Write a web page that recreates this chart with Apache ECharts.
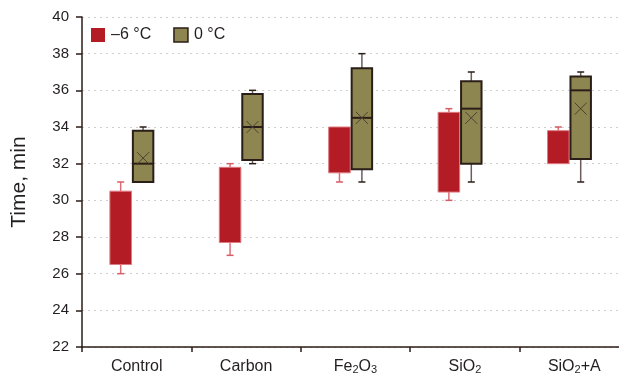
<!DOCTYPE html>
<html>
<head>
<meta charset="utf-8">
<script src="https://cdn.jsdelivr.net/npm/echarts@6/dist/echarts.min.js"></script>
<style>
html,body{margin:0;padding:0;background:#fff;}
#chart{width:619px;height:375px;}
</style>
</head>
<body>
<div id="chart"></div>
<script>
// ---- data ----
var categories = ['Control', 'Carbon', 'Fe2O3', 'SiO2', 'SiO2+A'];
var yTicks = [22, 24, 26, 28, 30, 32, 34, 36, 38, 40];
var seriesNames = ['\u20136 \u00B0C', '0 \u00B0C'];
// -6 °C : [min, Q1, median, Q3, max, mean] (median/mean not visible)
var coldMin    = [26.0, 27.0, 31.0, 30.0, 32.0];
var coldQ1     = [26.5, 27.7, 31.5, 30.45, 32.0];
var coldMedian = [null, null, null, null, null];
var coldQ3     = [30.5, 31.8, 34.0, 34.8, 33.8];
var coldMax    = [31.0, 32.0, 34.0, 35.0, 34.0];
var coldMean   = [null, null, null, null, null];
// 0 °C
var warmMin    = [31.0, 32.0, 31.0, 31.0, 31.0];
var warmQ1     = [31.0, 32.2, 31.7, 32.0, 32.25];
var warmMedian = [32.0, 34.0, 34.5, 35.0, 36.0];
var warmQ3     = [33.8, 35.8, 37.2, 36.5, 36.75];
var warmMax    = [34.0, 36.0, 38.0, 37.0, 37.0];
var warmMean   = [32.3, 34.0, 34.5, 34.5, 35.0];

function build(mn, q1, md, q3, mx, mean) {
  return categories.map(function (c, i) {
    return [i, mn[i], q1[i], md[i] == null ? '-' : md[i], q3[i], mx[i], mean[i] == null ? '-' : mean[i]];
  });
}

function makeRender(frac, st) {
  return function (params, api) {
    var ci = api.value(0);
    var bw = api.size([1, 0])[0];
    var c = api.coord([ci, 30]);
    var x0 = c[0] + frac[0] * bw, x1 = c[0] + frac[1] * bw;
    var xm = (x0 + x1) / 2;
    var yLow = api.coord([ci, api.value(1)])[1];
    var yQ1 = api.coord([ci, api.value(2)])[1];
    var yQ3 = api.coord([ci, api.value(4)])[1];
    var yHigh = api.coord([ci, api.value(5)])[1];
    var med = api.value(3), mean = api.value(6);
    var ch = [];
    var cap = 3.5;
    if (yHigh < yQ3 - 0.5) {
      ch.push({type: 'line', shape: {x1: xm, y1: yQ3, x2: xm, y2: yHigh}, style: {stroke: st.whisker, lineWidth: 1.5}});
      ch.push({type: 'line', shape: {x1: xm - cap, y1: yHigh, x2: xm + cap, y2: yHigh}, style: {stroke: st.cap, lineWidth: 1.5}});
    }
    if (yLow > yQ1 + 0.5) {
      ch.push({type: 'line', shape: {x1: xm, y1: yQ1, x2: xm, y2: yLow}, style: {stroke: st.whisker, lineWidth: 1.5}});
      ch.push({type: 'line', shape: {x1: xm - cap, y1: yLow, x2: xm + cap, y2: yLow}, style: {stroke: st.cap, lineWidth: 1.5}});
    }
    ch.push({type: 'rect', shape: {x: x0, y: yQ3, width: x1 - x0, height: yQ1 - yQ3},
      style: {fill: st.fill, stroke: st.stroke, lineWidth: st.lw}});
    if (!isNaN(med) && med !== '-' && med != null) {
      var yMd = api.coord([ci, med])[1];
      ch.push({type: 'line', shape: {x1: x0, y1: yMd, x2: x1, y2: yMd}, style: {stroke: st.stroke, lineWidth: 2}});
    }
    if (!isNaN(mean) && mean !== '-' && mean != null) {
      var yMn = api.coord([ci, mean])[1];
      var h = 6;
      ch.push({type: 'line', shape: {x1: xm - h, y1: yMn - h, x2: xm + h, y2: yMn + h}, style: {stroke: '#4a4032', lineWidth: 1}});
      ch.push({type: 'line', shape: {x1: xm - h, y1: yMn + h, x2: xm + h, y2: yMn - h}, style: {stroke: '#4a4032', lineWidth: 1}});
    }
    return {type: 'group', children: ch};
  };
}

var FONT = 'Liberation Sans, Arial, Helvetica, sans-serif';
var chart = echarts.init(document.getElementById('chart'), null, {renderer: 'canvas'});
var option = {
  animation: false,
  backgroundColor: '#fff',
  textStyle: {fontFamily: FONT},
  grid: {left: 82, top: 17, width: 547, height: 330, containLabel: false, outerBoundsMode: 'none'},
  legend: {
    left: 91, top: 27, padding: 0, itemWidth: 14, itemHeight: 14, itemGap: 22, icon: 'rect',
    textStyle: {fontSize: 16, color: '#231f20', fontFamily: FONT, padding: [0, 0, 0, 1]},
    data: [
      {name: seriesNames[0], itemStyle: {color: '#B31C25', borderWidth: 0}},
      {name: seriesNames[1], itemStyle: {color: '#8E8650', borderColor: '#2a1e18', borderWidth: 1.5}}
    ]
  },
  xAxis: {
    type: 'category', data: categories, boundaryGap: true,
    axisLine: {lineStyle: {color: '#2b1d17', width: 1.5}},
    axisTick: {show: true, length: 5, lineStyle: {color: '#2b1d17', width: 1.5}},
    axisLabel: {
      interval: 0, margin: 12, fontSize: 16, color: '#231f20', fontFamily: FONT,
      formatter: function (v) { return v.replace(/(\d)/g, '{s|$1}'); },
      rich: {s: {fontSize: 11, verticalAlign: 'bottom', lineHeight: 14, padding: [6, 0, 0, 0], color: '#231f20', fontFamily: FONT}}
    },
    splitLine: {show: false}
  },
  yAxis: {
    type: 'value', min: yTicks[0], max: yTicks[yTicks.length - 1], interval: 2,
    name: 'Time, min', nameLocation: 'middle', nameGap: 52, nameRotate: 90,
    nameTextStyle: {fontSize: 21, color: '#231f20', fontFamily: FONT},
    axisLine: {show: true, lineStyle: {color: '#2b1d17', width: 1.5}},
    axisTick: {show: true, length: 6, lineStyle: {color: '#2b1d17', width: 1.5}},
    axisLabel: {margin: 13, fontSize: 15, color: '#231f20', fontFamily: FONT},
    splitLine: {show: true, lineStyle: {color: '#cfcfcf', type: [2, 4], width: 1}}
  },
  series: [
    {
      name: seriesNames[0], type: 'custom', encode: {x: 0, y: [1, 2, 4, 5]},
      itemStyle: {color: '#B31C25'},
      renderItem: makeRender([-0.245, -0.048], {fill: '#B31C25', stroke: '#de7a80', lw: 1, whisker: '#dc6e76', cap: '#d65c66'}),
      data: build(coldMin, coldQ1, coldMedian, coldQ3, coldMax, coldMean)
    },
    {
      name: seriesNames[1], type: 'custom', encode: {x: 0, y: [1, 2, 4, 5]},
      itemStyle: {color: '#8E8650', borderColor: '#2a1e18', borderWidth: 1.5},
      renderItem: makeRender([-0.035, 0.152], {fill: '#8E8650', stroke: '#2a1e18', lw: 2, whisker: '#6a5e5a', cap: '#2a1e18'}),
      data: build(warmMin, warmQ1, warmMedian, warmQ3, warmMax, warmMean)
    }
  ]
};
chart.setOption(option);
</script>
</body>
</html>
